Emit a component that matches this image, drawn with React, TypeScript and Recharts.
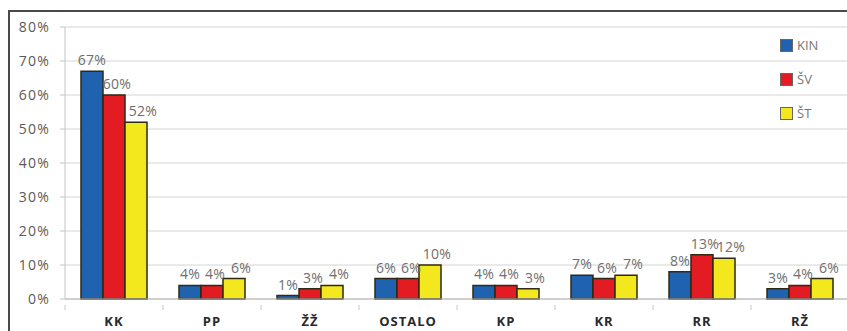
import {
  BarChart,
  Bar,
  XAxis,
  YAxis,
  CartesianGrid,
  Legend,
  LabelList,
} from "recharts";

const categories = ["KK", "PP", "ŽŽ", "OSTALO", "KP", "KR", "RR", "RŽ"];
const kin = [67, 4, 1, 6, 4, 7, 8, 3];
const sv = [60, 4, 3, 6, 4, 6, 13, 4];
const st = [52, 6, 4, 10, 3, 7, 12, 6];
const yTicks = [0, 10, 20, 30, 40, 50, 60, 70, 80];

const data = categories.map((name, i) => ({
  name,
  KIN: kin[i],
  "ŠV": sv[i],
  "ŠT": st[i],
}));

const FONT = "'Open Sans', sans-serif";
const OUTLINE = "#2e2a14";
const BAND = 98; // width of one category slot

// dx nudges the value labels a little so neighbours don't collide
const series = [
  { key: "KIN", color: "#1f62b0", dx: 0 },
  { key: "ŠV", color: "#e31b23", dx: 3 },
  { key: "ŠT", color: "#f3e71d", dx: 7 },
];

// category label plus the little tick marks between categories
const CatTick = (props: any) => {
  const { x, y, payload, index } = props;
  const left = x - BAND / 2;
  const right = x + BAND / 2;
  return (
    <g>
      <line x1={left} x2={left} y1={y - 12} y2={y - 7} stroke="#c4c4c4" />
      {index === categories.length - 1 && (
        <line x1={right} x2={right} y1={y - 12} y2={y - 7} stroke="#c4c4c4" />
      )}
      <text
        x={x}
        y={y}
        dy="0.71em"
        textAnchor="middle"
        fill="#2a2a2a"
        fontFamily={FONT}
        fontSize={13}
        fontWeight={700}
        letterSpacing={1}
      >
        {payload.value}
      </text>
    </g>
  );
};

// legend keeps the series order instead of the default alphabetical one
const LegendBox = () => (
  <div>
    {series.map((s) => (
      <div
        key={s.key}
        style={{
          display: "flex",
          alignItems: "center",
          height: 34,
          fontFamily: FONT,
          fontSize: 13,
          color: "#777",
        }}
      >
        <span
          style={{
            width: 11,
            height: 11,
            background: s.color,
            border: "1px solid #666",
            marginRight: 4,
          }}
        />
        {s.key}
      </div>
    ))}
  </div>
);

const App = () => {
  return (
    <div
      style={{
        position: "fixed",
        left: 0,
        top: 0,
        width: 847,
        height: 331,
        overflow: "hidden",
        background: "#fff",
      }}
    >
      <div
        style={{
          position: "absolute",
          left: 8,
          top: 10,
          width: 900,
          height: 400,
          borderTop: "2px solid #4a4a4a",
          borderLeft: "2px solid #4a4a4a",
        }}
      >
        <BarChart
          width={839}
          height={320}
          data={data}
          margin={{ top: 15, right: 0, left: 0, bottom: 0 }}
          barCategoryGap="18%"
          barGap={0}
        >
          <CartesianGrid vertical={false} stroke="#d4d4d4" />
          <XAxis
            dataKey="name"
            height={33}
            axisLine={{ stroke: "#b5b5b5" }}
            tickLine={false}
            tickMargin={12}
            tick={<CatTick />}
          />
          <YAxis
            width={55}
            domain={[0, 80]}
            ticks={yTicks}
            tickFormatter={(v: number) => `${v}%`}
            axisLine={{ stroke: "#c4c4c4" }}
            tickLine={{ stroke: "#c4c4c4" }}
            tickSize={5}
            tickMargin={10}
            tick={{
              fill: "#5a5a5a",
              fontFamily: FONT,
              fontSize: 14,
              letterSpacing: 1.2,
            }}
          />
          <Legend
            layout="vertical"
            align="center"
            verticalAlign="middle"
            content={<LegendBox />}
            wrapperStyle={{ left: 770, top: 16, width: 70 }}
          />
          {series.map((s) => (
            <Bar
              key={s.key}
              dataKey={s.key}
              fill={s.color}
              stroke={OUTLINE}
              strokeWidth={1.5}
              barSize={22}
              isAnimationActive={false}
            >
              <LabelList
                dataKey={s.key}
                position="top"
                offset={6}
                dx={s.dx}
                formatter={(v: any) => `${v}%`}
                fill="#6e6e6e"
                fontFamily={FONT}
                fontSize={14}
                letterSpacing={0.3}
              />
            </Bar>
          ))}
        </BarChart>
      </div>
    </div>
  );
};

export default App;
